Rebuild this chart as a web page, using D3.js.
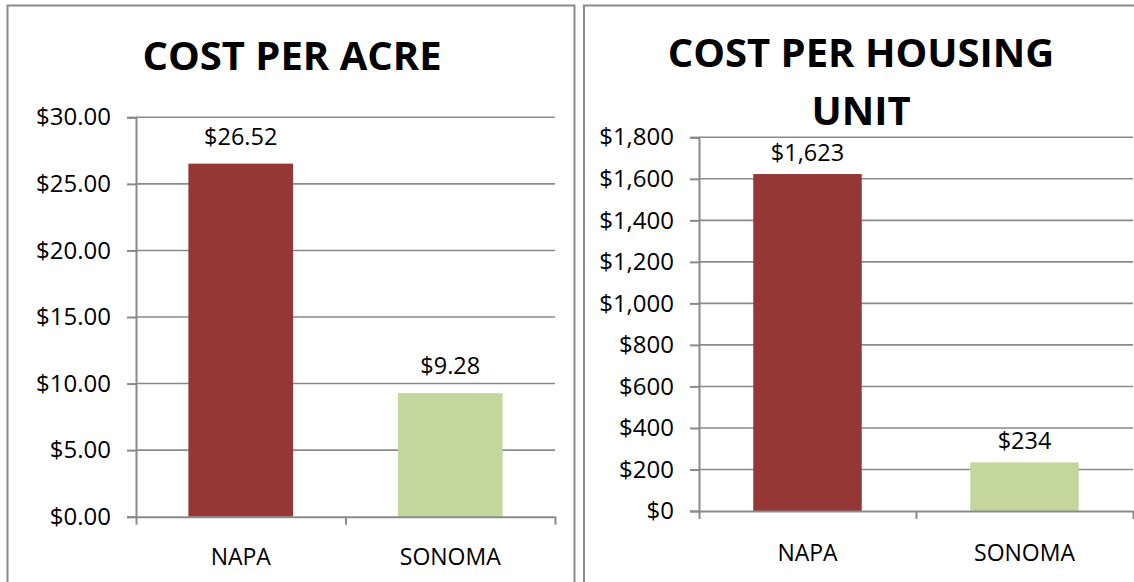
<!DOCTYPE html>
<html>
<head>
<meta charset="utf-8">
<script src="https://cdn.jsdelivr.net/npm/d3@7"></script>
<style>
  html, body { margin: 0; padding: 0; background: #fff; }
  svg { display: block; font-family: 'Open Sans', sans-serif; }
  .tick text { fill: #000; }
</style>
</head>
<body>
<div id="chart"></div>
<script>
// Data
const counties = ['NAPA', 'SONOMA'];
const costPerAcre = [26.52, 9.28];
const costPerUnit = [1623, 234];
const acreTicks = [0, 5, 10, 15, 20, 25, 30];
const unitTicks = [0, 200, 400, 600, 800, 1000, 1200, 1400, 1600, 1800];
const barColors = ['#953735', '#c3d69b'];

const width = 1134;
const height = 582;
const grey = '#8a8a8a';

const svg = d3.select('#chart')
  .append('svg')
  .attr('width', width)
  .attr('height', height);

// Panel borders (the bottom and far right run off the picture)
svg.append('rect')
  .attr('x', 7.5).attr('y', 5.5)
  .attr('width', 567).attr('height', 600)
  .attr('fill', 'none').attr('stroke', grey).attr('stroke-width', 2);
svg.append('rect')
  .attr('x', 584).attr('y', 5.5)
  .attr('width', 600).attr('height', 600)
  .attr('fill', 'none').attr('stroke', grey).attr('stroke-width', 2);

function barChart(opts) {
  const g = svg.append('g');

  const x = d3.scaleBand().domain(counties).range([opts.left, opts.right]).paddingInner(0.5).paddingOuter(0.25);
  const xEdge = d3.scalePoint().domain(d3.range(counties.length + 1)).range([opts.left, opts.right]);
  const y = d3.scaleLinear().domain([0, d3.max(opts.ticks)]).range([opts.bottom, opts.top]);

  // Title
  const title = g.append('text')
    .attr('x', opts.titleX)
    .attr('text-anchor', 'middle')
    .attr('font-size', 40)
    .attr('font-weight', 'bold');
  opts.title.forEach((line, i) => {
    title.append('tspan')
      .attr('x', opts.titleX)
      .attr('y', opts.titleY + i * opts.titleStep)
      .text(line);
  });

  // Gridlines
  g.selectAll('.grid')
    .data(opts.ticks.slice(1))
    .enter()
    .append('line')
    .attr('x1', opts.left).attr('x2', opts.right)
    .attr('y1', d => y(d)).attr('y2', d => y(d))
    .attr('stroke', grey).attr('stroke-width', 1.6);

  // Bars
  g.selectAll('.bar')
    .data(opts.values)
    .enter()
    .append('rect')
    .attr('x', (d, i) => x(counties[i]))
    .attr('y', d => y(d))
    .attr('width', x.bandwidth())
    .attr('height', d => y(0) - y(d))
    .attr('fill', (d, i) => barColors[i]);

  // Value labels
  g.selectAll('.value')
    .data(opts.values)
    .enter()
    .append('text')
    .attr('x', (d, i) => x(counties[i]) + x.bandwidth() / 2)
    .attr('y', d => y(d) - opts.labelGap)
    .attr('text-anchor', 'middle')
    .attr('font-size', 23.5)
    .text(opts.format);

  // Y axis
  const yAxis = d3.axisLeft(y)
    .tickValues(opts.ticks)
    .tickFormat(opts.format)
    .tickSize(9)
    .tickPadding(16);
  g.append('g')
    .attr('transform', `translate(${opts.left},0)`)
    .call(yAxis)
    .call(a => a.selectAll('line, path').attr('stroke', grey).attr('stroke-width', 2))
    .call(a => a.selectAll('text').attr('font-size', 24).attr('font-family', 'Open Sans'));

  // X axis: ticks sit on the category edges
  const xAxis = d3.axisBottom(xEdge)
    .tickFormat('')
    .tickSize(8)
    .tickSizeOuter(0);
  g.append('g')
    .attr('transform', `translate(0,${opts.bottom})`)
    .call(xAxis)
    .call(a => a.selectAll('line, path').attr('stroke', grey).attr('stroke-width', 2));

  g.selectAll('.cat')
    .data(counties)
    .enter()
    .append('text')
    .attr('x', d => x(d) + x.bandwidth() / 2)
    .attr('y', opts.catY)
    .attr('text-anchor', 'middle')
    .attr('font-size', 23)
    .text(d => d);
}

barChart({
  title: ['COST PER ACRE'],
  titleX: 292, titleY: 70, titleStep: 0,
  values: costPerAcre,
  ticks: acreTicks,
  format: d3.format('$.2f'),
  left: 136, right: 555, top: 117.3, bottom: 516.7,
  labelGap: 19,
  catY: 565
});

barChart({
  title: ['COST PER HOUSING', 'UNIT'],
  titleX: 861, titleY: 67, titleStep: 58,
  values: costPerUnit,
  ticks: unitTicks,
  format: d3.format('$,.0f'),
  left: 699, right: 1133, top: 137.3, bottom: 511,
  labelGap: 13,
  catY: 561
});
</script>
</body>
</html>
